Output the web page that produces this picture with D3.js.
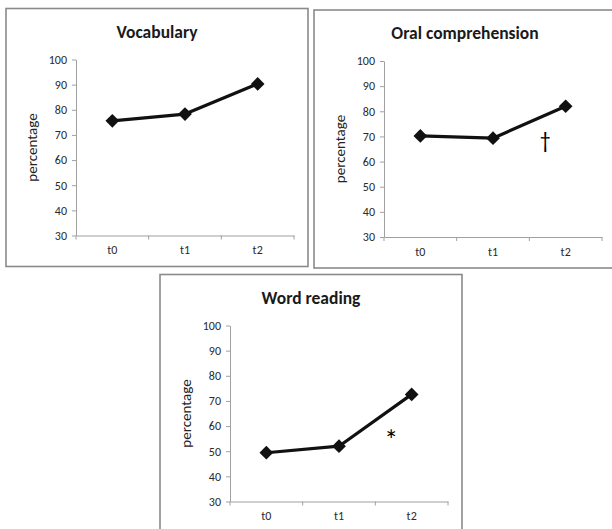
<!DOCTYPE html>
<html>
<head>
<meta charset="utf-8">
<script src="https://cdn.jsdelivr.net/npm/d3@7"></script>
<style>
    body { margin: 0; background: #fff; }
    svg { display: block; }
    text { font-family: Carlito, Lato, "Open Sans", sans-serif; }
</style>
</head>
<body>
<svg id="chart" width="612" height="529"></svg>
<script>
// data
var timepoints = ["t0", "t1", "t2"];
var yTicks = [30, 40, 50, 60, 70, 80, 90, 100];

var vocabulary = [75.6, 78.3, 90.3];
var oralComprehension = [70.2, 69.3, 82.0];
var wordReading = [49.4, 52.0, 72.6];

// significance marks: [category, value, symbol, font size]
var oralMarks = [["t2", 67.5, "\u2020", 22]];
var readingMarks = [["t2", 53.2, "*", 28]];

var svg = d3.select("#chart");

function drawPanel(left, top, title, values, marks)
{
    var g = svg.append("g").attr("transform", "translate(" + left + "," + top + ")");

    g.append("rect")
        .attr("x", 0).attr("y", 0)
        .attr("width", 302).attr("height", 258)
        .attr("fill", "#fff")
        .attr("stroke", "#8a8a8a")
        .attr("stroke-width", 1.6);

    g.append("text")
        .attr("x", 151).attr("y", 29)
        .attr("text-anchor", "middle")
        .attr("font-size", 17.5).attr("font-weight", "bold")
        .attr("fill", "#1a1a1a")
        .text(title);

    var x = d3.scaleBand().domain(timepoints).range([70, 288]).padding(0);
    var y = d3.scaleLinear().domain([30, 100]).range([227, 51]);

    // y axis
    var yAxis = g.append("g").attr("transform", "translate(70,0)")
        .call(d3.axisLeft(y).tickValues(yTicks).tickSize(4).tickSizeOuter(0).tickPadding(5));
    yAxis.attr("font-size", 12).attr("font-family", "Carlito, Lato, 'Open Sans', sans-serif");
    yAxis.select(".domain").attr("stroke", "#a0a0a0");
    yAxis.selectAll(".tick line").attr("stroke", "#a0a0a0");
    yAxis.selectAll(".tick text").attr("fill", "#2a2a2a");

    // x axis: labels centred in bands, ticks on band edges
    var xAxis = g.append("g").attr("transform", "translate(0,227)")
        .call(d3.axisBottom(x).tickSize(0).tickSizeOuter(0).tickPadding(10));
    xAxis.attr("font-size", 12).attr("font-family", "Carlito, Lato, 'Open Sans', sans-serif");
    xAxis.select(".domain").attr("stroke", "#a0a0a0");
    xAxis.selectAll(".tick text").attr("fill", "#2a2a2a");

    var edges = timepoints.map(d => x(d)).concat([x.range()[1]]);
    xAxis.selectAll(".edge").data(edges).enter().append("line")
        .attr("x1", d => d).attr("x2", d => d)
        .attr("y1", 0).attr("y2", 4)
        .attr("stroke", "#a0a0a0");

    g.append("text")
        .attr("transform", "translate(31," + ((y(30) + y(100)) / 2) + ") rotate(-90)")
        .attr("text-anchor", "middle")
        .attr("font-size", 15).attr("fill", "#222")
        .text("percentage");

    var cx = (d, i) => x(timepoints[i]) + x.bandwidth() / 2;

    var line = d3.line().x(cx).y(d => y(d));

    g.append("path")
        .datum(values)
        .attr("d", line)
        .attr("fill", "none")
        .attr("stroke", "#111")
        .attr("stroke-width", 3.2)
        .attr("stroke-linejoin", "round");

    g.selectAll(".marker").data(values).enter().append("path")
        .attr("transform", (d, i) => "translate(" + cx(d, i) + "," + y(d) + ")")
        .attr("d", d3.symbol(d3.symbolDiamond2, 120))
        .attr("fill", "#111");

    g.selectAll(".mark").data(marks).enter().append("text")
        .attr("x", d => x(d[0]) + x.bandwidth() * 0.22)
        .attr("y", d => y(d[1]))
        .attr("text-anchor", "middle")
        .attr("dominant-baseline", "middle")
        .attr("font-size", d => d[3])
        .attr("font-family", "'DejaVu Sans', sans-serif")
        .attr("fill", "#000")
        .text(d => d[2]);
}

drawPanel(6, 8.5, "Vocabulary", vocabulary, []);
drawPanel(314, 10, "Oral comprehension", oralComprehension, oralMarks);
drawPanel(160, 274.5, "Word reading", wordReading, readingMarks);
</script>
</body>
</html>
